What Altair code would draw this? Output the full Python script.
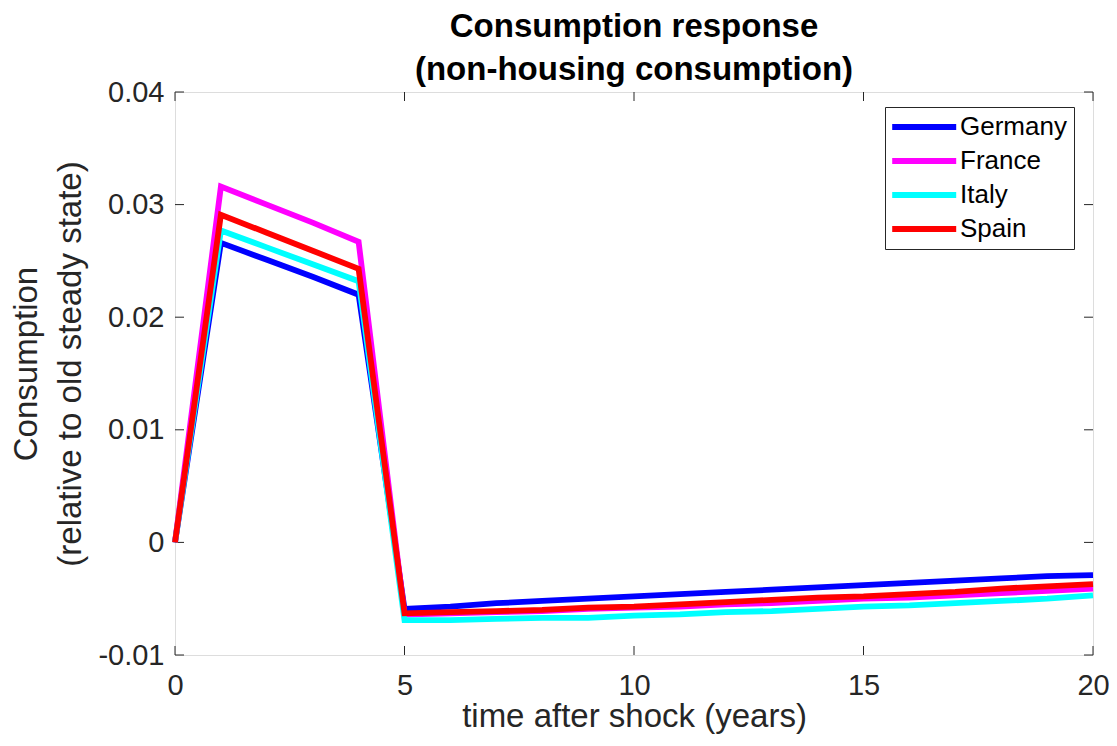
import altair as alt
import pandas as pd

years = list(range(0, 21))
countries = ["Germany", "France", "Italy", "Spain"]
colors = ["#0000FF", "#FF00FF", "#00FFFF", "#FF0000"]

germany = [0.0, 0.0266, 0.0251, 0.0236, 0.0220, -0.0059, -0.0057, -0.0054, -0.0052, -0.0050,
           -0.0048, -0.0046, -0.0044, -0.0042, -0.0040, -0.0038, -0.0036, -0.0034, -0.0032,
           -0.0030, -0.0029]
france = [0.0, 0.0316, 0.0300, 0.0284, 0.0267, -0.0064, -0.0063, -0.0062, -0.0061, -0.0059,
          -0.0058, -0.0057, -0.0055, -0.0054, -0.0052, -0.0050, -0.0049, -0.0047, -0.0045,
          -0.0043, -0.0041]
italy = [0.0, 0.0277, 0.0262, 0.0247, 0.0232, -0.0069, -0.0069, -0.0068, -0.0067, -0.0067,
         -0.0065, -0.0064, -0.0062, -0.0061, -0.0059, -0.0057, -0.0056, -0.0054, -0.0052,
         -0.0050, -0.0047]
spain = [0.0, 0.0291, 0.0275, 0.0259, 0.0243, -0.0063, -0.0062, -0.0061, -0.0060, -0.0058,
         -0.0057, -0.0055, -0.0053, -0.0051, -0.0049, -0.0048, -0.0046, -0.0044, -0.0041,
         -0.0039, -0.0037]

x_ticks = [0, 5, 10, 15, 20]
y_ticks = [-0.01, 0, 0.01, 0.02, 0.03, 0.04]

series = {"Germany": germany, "France": france, "Italy": italy, "Spain": spain}
rows = []
for i, c in enumerate(countries):
    for t, v in zip(years, series[c]):
        rows.append({"year": t, "value": v, "country": c, "ord": i})
df = pd.DataFrame(rows)

W, H = 918, 563
FONT = "Liberation Sans"
AX = "#262626"

xscale = alt.Scale(domain=[0, 20], nice=False)
yscale = alt.Scale(domain=[-0.01, 0.04], nice=False)

lines = alt.Chart(df).mark_line(strokeWidth=5.8, strokeJoin="miter", strokeCap="butt").encode(
    x=alt.X("year:Q", scale=xscale,
            axis=alt.Axis(values=x_ticks, title="time after shock (years)", grid=False,
                          domain=False, ticks=False, labelFontSize=29, labelColor=AX,
                          labelFont=FONT, labelPadding=16, labelFlush=False,
                          titleFont=FONT, titleFontSize=33,
                          titleFontWeight="normal", titleColor=AX, titlePadding=0)),
    y=alt.Y("value:Q", scale=yscale,
            axis=alt.Axis(values=y_ticks, title=["Consumption", "(relative to old steady state)"],
                          labelExpr="toString(datum.value)", grid=False, domain=False,
                          ticks=False, labelFontSize=29, labelColor=AX, labelFont=FONT,
                          labelPadding=11, labelFlush=False, titleFont=FONT, titleFontSize=33,
                          titleFontWeight="normal", titleColor=AX, titleLineHeight=44,
                          titlePadding=10, titleY=H / 2 - 10)),
    color=alt.Color("country:N", sort=countries,
                    scale=alt.Scale(domain=countries, range=colors),
                    legend=alt.Legend(title=None, orient="none", legendX=710, legendY=15,
                                      symbolType="M-1.6,0H6.4", symbolSize=256,
                                      symbolStrokeWidth=5.8, labelOffset=42,
                                      labelFontSize=26, labelFont=FONT, labelColor="#000000",
                                      padding=7, rowPadding=8, strokeColor=AX,
                                      fillColor="#FFFFFF", labelLimit=300)),
    order=alt.Order("year:Q"),
    detail="ord:N",
)

xt = pd.DataFrame({"t": x_ticks})
yt = pd.DataFrame({"v": y_ticks})

xb = alt.Chart(xt).mark_rule(color=AX, strokeWidth=1).encode(
    x=alt.X("t:Q", scale=xscale), y=alt.value(H), y2=alt.value(H - 9))
xtop = alt.Chart(xt).mark_rule(color=AX, strokeWidth=1).encode(
    x=alt.X("t:Q", scale=xscale), y=alt.value(0), y2=alt.value(9))
yl = alt.Chart(yt).mark_rule(color=AX, strokeWidth=1).encode(
    y=alt.Y("v:Q", scale=yscale), x=alt.value(0), x2=alt.value(9))
yr = alt.Chart(yt).mark_rule(color=AX, strokeWidth=1).encode(
    y=alt.Y("v:Q", scale=yscale), x=alt.value(W), x2=alt.value(W - 9))

chart = alt.layer(xb, xtop, yl, yr, lines).properties(
    width=W, height=H,
    title=alt.TitleParams(["Consumption response", "(non-housing consumption)"],
                          font=FONT, fontSize=33, fontWeight="bold", color="#000000",
                          lineHeight=43, anchor="middle", offset=-9),
    padding={"left": 167, "top": 84, "right": 16, "bottom": 82},
    autosize=alt.AutoSizeParams(type="none"),
).configure_view(stroke=AX, strokeWidth=1).configure(background="#FFFFFF")

chart.save("out.html", embed_options={"renderer": "svg", "actions": False})
